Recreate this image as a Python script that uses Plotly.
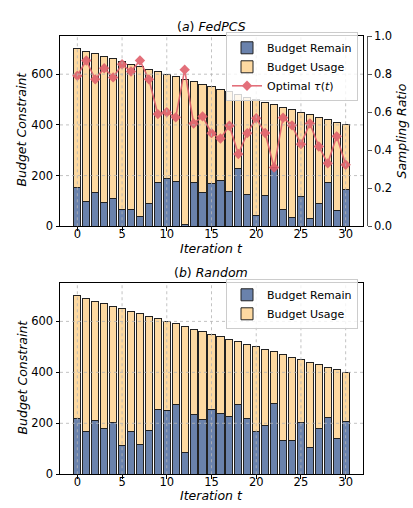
import plotly.graph_objects as go

# ---- data -------------------------------------------------------------
iterations = list(range(31))
budget_constraint = [700, 690, 680, 670, 660, 650, 640, 630, 620, 610,
                     600, 590, 580, 570, 560, 550, 540, 530, 520, 510,
                     500, 490, 480, 470, 460, 450, 440, 430, 420, 410, 400]
fedpcs_remain = [154, 97, 132, 93, 108, 65, 65, 37, 88, 172,
                 187, 177, 8, 172, 132, 170, 181, 136, 229, 127,
                 43, 123, 230, 65, 35, 119, 29, 90, 173, 62, 145]
fedpcs_tau = [0.792, 0.872, 0.773, 0.831, 0.783, 0.852, 0.814, 0.872, 0.773, 0.590,
              0.600, 0.573, 0.824, 0.541, 0.578, 0.490, 0.462, 0.529, 0.380, 0.490,
              0.568, 0.491, 0.309, 0.571, 0.531, 0.432, 0.541, 0.420, 0.331, 0.473, 0.324]
random_remain = [217, 166, 211, 180, 205, 111, 166, 116, 172, 255,
                 249, 275, 85, 234, 213, 255, 239, 226, 272, 217,
                 169, 193, 276, 131, 133, 205, 106, 178, 222, 140, 207]

x_ticks = [0, 5, 10, 15, 20, 25, 30]
y_ticks = [0, 200, 400, 600]
ratio_ticks = [0.0, 0.2, 0.4, 0.6, 0.8, 1.0]

fedpcs_usage = [b - r for b, r in zip(budget_constraint, fedpcs_remain)]
random_usage = [b - r for b, r in zip(budget_constraint, random_remain)]

# ---- styling ----------------------------------------------------------
W, H = 413, 508
FONT = "DejaVu Sans"
BLUE = "#6A82AC"
ORANGE = "#FDD9A1"
EDGE = "#222222"
RED = "#E0606C"
GRID = "#b4b4b4"


def px_x(v):
    return v / W


def px_y(v):
    return 1 - v / H


X_DOM = [px_x(60), px_x(363)]
TOP_DOM = [px_y(225.5), px_y(30)]
BOT_DOM = [px_y(480.5), px_y(284)]

fig = go.Figure()

bar_kw = dict(width=0.8, marker_line=dict(color=EDGE, width=1.0))

fig.add_trace(go.Bar(x=iterations, y=fedpcs_remain, name="Budget Remain",
                     marker_color=BLUE, xaxis="x", yaxis="y",
                     legend="legend", **bar_kw))
fig.add_trace(go.Bar(x=iterations, y=fedpcs_usage, name="Budget Usage",
                     marker_color=ORANGE, xaxis="x", yaxis="y",
                     legend="legend", **bar_kw))
fig.add_trace(go.Scatter(x=iterations, y=fedpcs_tau, name="Optimal <i>τ</i>(<i>t</i>)",
                         mode="lines+markers", xaxis="x", yaxis="y2",
                         line=dict(color=RED, width=1.6),
                         marker=dict(symbol="diamond", size=8, color=RED),
                         opacity=0.9, legend="legend"))

fig.add_trace(go.Bar(x=iterations, y=random_remain, name="Budget Remain",
                     marker_color=BLUE, xaxis="x3", yaxis="y3",
                     legend="legend2", **bar_kw))
fig.add_trace(go.Bar(x=iterations, y=random_usage, name="Budget Usage",
                     marker_color=ORANGE, xaxis="x3", yaxis="y3",
                     legend="legend2", **bar_kw))

tick_font = dict(family=FONT, size=11.5, color="#000")
axis_common = dict(showline=True, linecolor="#000", linewidth=1, mirror=True,
                   ticks="outside", ticklen=3.5, tickwidth=1, tickcolor="#000",
                   showgrid=False, zeroline=False, tickfont=tick_font)

xaxis_common = dict(axis_common, range=[-1.94, 31.94], tickvals=x_ticks,
                    domain=X_DOM, ticklabelstandoff=-7)
yaxis_common = dict(axis_common, range=[0, 750], tickvals=y_ticks)

legend_common = dict(xanchor="right", yanchor="top",
                     bgcolor="rgba(255,255,255,0.8)", bordercolor="#cccccc",
                     borderwidth=1, font=dict(family=FONT, size=11, color="#000"),
                     itemwidth=30, tracegroupgap=0, traceorder="normal")

fig.update_layout(
    width=W, height=H,
    margin=dict(l=0, r=0, t=0, b=0),
    paper_bgcolor="white", plot_bgcolor="white",
    barmode="stack",
    font=dict(family=FONT, color="#000"),
    xaxis=dict(xaxis_common, anchor="y"),
    yaxis=dict(yaxis_common, domain=TOP_DOM, anchor="x"),
    yaxis2=dict(range=[0, 1], tickvals=ratio_ticks, tickformat=".1f",
                overlaying="y", side="right", anchor="free",
                position=px_x(367), showline=True, linecolor="#555",
                linewidth=1.2, ticks="outside", ticklen=3.5, tickcolor="#555",
                showgrid=False, zeroline=False, tickfont=tick_font),
    xaxis3=dict(xaxis_common, anchor="y3"),
    yaxis3=dict(yaxis_common, domain=BOT_DOM, anchor="x3"),
    legend=dict(legend_common, x=px_x(358), y=px_y(26)),
    legend2=dict(legend_common, x=px_x(358), y=px_y(280)),
    showlegend=True,
)

# dotted grid drawn over the bars
shapes = []
for xa, ya in (("x", "y"), ("x3", "y3")):
    for t in x_ticks:
        shapes.append(dict(type="line", xref=xa, yref=f"{ya} domain",
                           x0=t, x1=t, y0=0, y1=1, layer="above",
                           line=dict(color=GRID, width=0.8, dash="dot")))
    for t in y_ticks[1:]:
        shapes.append(dict(type="line", xref=f"{xa} domain", yref=ya,
                           x0=0, x1=1, y0=t, y1=t, layer="above",
                           line=dict(color=GRID, width=0.8, dash="dot")))
fig.update_layout(shapes=shapes)

label_font = dict(family=FONT, size=12.5, color="#000")
annotations = [
    dict(text="(<i>a</i>) <i>FedPCS</i>", x=px_x(211), y=px_y(20)),
    dict(text="(<i>b</i>) <i>Random</i>", x=px_x(211), y=px_y(273)),
    dict(text="<i>Iteration t</i>", x=px_x(211), y=px_y(248)),
    dict(text="<i>Iteration t</i>", x=px_x(211), y=px_y(502)),
    dict(text="<i>Budget Constraint</i>", x=px_x(22), y=px_y(126), textangle=-90),
    dict(text="<i>Budget Constraint</i>", x=px_x(22), y=px_y(381), textangle=-90),
    dict(text="<i>Sampling Ratio</i>", x=px_x(401), y=px_y(128), textangle=-90),
]
for a in annotations:
    a.update(xref="paper", yref="paper", showarrow=False,
             xanchor="center", yanchor="middle", font=label_font)
fig.update_layout(annotations=annotations)

fig.write_html("out.html")
